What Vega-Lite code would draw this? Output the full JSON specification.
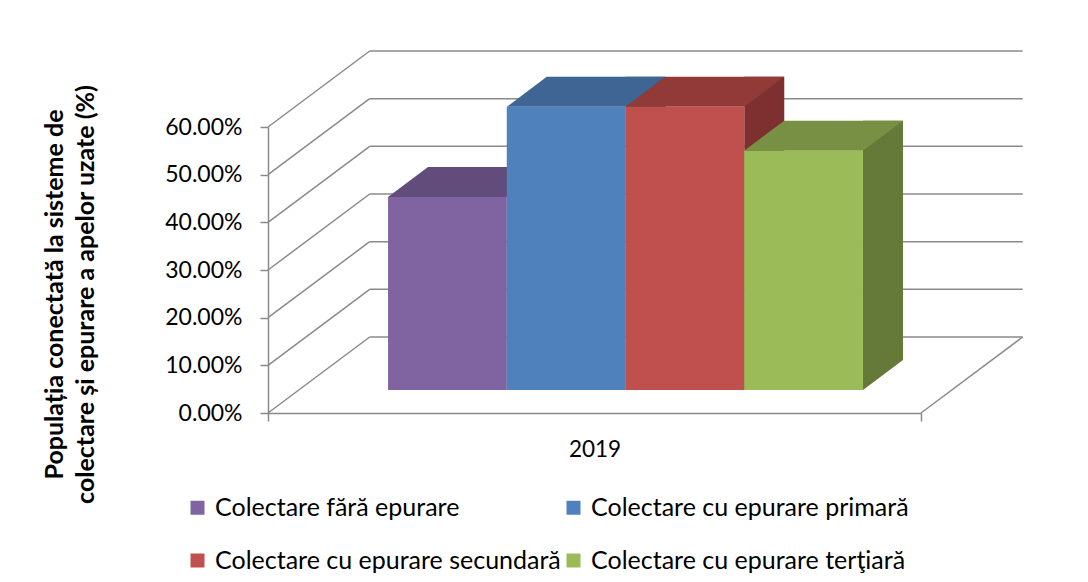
{
  "$schema": "https://vega.github.io/schema/vega-lite/v6.json",
  "width": 653,
  "height": 286,
  "autosize": {"type": "none"},
  "padding": {"left": 268, "top": 127, "right": 167, "bottom": 169},
  "background": "white",
  "config": {"view": {"stroke": null}, "font": "Lato", "axis": {"labelFontWeight": 400}},
  "datasets": {
    "bars": [
      {"year": "2019", "series": "Colectare fără epurare", "value": 0.405},
      {"year": "2019", "series": "Colectare cu epurare primară", "value": 0.594},
      {"year": "2019", "series": "Colectare cu epurare secundară", "value": 0.594},
      {"year": "2019", "series": "Colectare cu epurare terţiară", "value": 0.502}
    ],
    "levels": [
      {"level": 0}, {"level": 0.1}, {"level": 0.2}, {"level": 0.3},
      {"level": 0.4}, {"level": 0.5}, {"level": 0.6}
    ]
  },
  "layer": [
    {
      "data": {"name": "levels"},
      "layer": [
        {
          "mark": {"type": "rule", "color": "#8a8a8a", "strokeWidth": 1.5, "x2Offset": 101.7, "y2Offset": -76},
          "encoding": {
            "x": {"datum": 0, "type": "quantitative", "scale": {"domain": [0, 1]}, "axis": null},
            "x2": {"datum": 0},
            "y": {"field": "level", "type": "quantitative", "scale": {"domain": [0, 0.6], "nice": false}},
            "y2": {"field": "level"}
          }
        },
        {
          "mark": {"type": "rule", "color": "#8a8a8a", "strokeWidth": 1.5, "xOffset": 101.7, "x2Offset": 101.7, "yOffset": -76, "y2Offset": -76},
          "encoding": {
            "x": {"datum": 0, "type": "quantitative", "scale": {"domain": [0, 1]}, "axis": null},
            "x2": {"datum": 1},
            "y": {"field": "level", "type": "quantitative", "scale": {"domain": [0, 0.6], "nice": false}},
            "y2": {"field": "level"}
          }
        },
        {
          "transform": [{"filter": "datum.level == 0"}],
          "mark": {"type": "rule", "color": "#8a8a8a", "strokeWidth": 1.5, "x2Offset": 101.7, "y2Offset": -76},
          "encoding": {
            "x": {"datum": 1, "type": "quantitative", "scale": {"domain": [0, 1]}, "axis": null},
            "x2": {"datum": 1},
            "y": {"field": "level", "type": "quantitative", "scale": {"domain": [0, 0.6], "nice": false}},
            "y2": {"field": "level"}
          }
        }
      ]
    },
    {
      "data": {"name": "bars"},
      "mark": {"type": "bar", "opacity": 0},
      "encoding": {
        "x": {"field": "year", "type": "nominal", "scale": {"type": "band", "paddingInner": 0, "paddingOuter": 0},
          "axis": {"title": null, "labelAngle": 0, "domainColor": "#8a8a8a", "domainWidth": 1.5, "tickColor": "#8a8a8a", "tickWidth": 1.5, "tickSize": 8, "tickBand": "extent", "labelFont": "Lato", "labelFontSize": 22.5, "labelFontWeight": 400, "labelColor": "black", "labelPadding": 17}},
        "y": {"field": "value", "type": "quantitative", "scale": {"domain": [0, 0.6], "nice": false},
          "axis": {"values": [0, 0.1, 0.2, 0.3, 0.4, 0.5, 0.6], "format": ".2%", "grid": false, "domainColor": "#8a8a8a", "domainWidth": 1.5, "tickColor": "#8a8a8a", "tickWidth": 1.5, "tickSize": 8, "labelPadding": 18, "labelFont": "Lato", "labelFontSize": 23, "labelFontWeight": 400, "labelColor": "black",
            "title": ["Populația conectată la sisteme de", "colectare și epurare a apelor uzate (%)"], "titleFont": "Lato", "titleFontSize": 25, "titleFontWeight": "bold", "titleColor": "black", "titleX": -214, "titleY": 167, "titleAngle": -90, "titleAlign": "center", "titleBaseline": "middle", "titleLineHeight": 31.5}}
      }
    },
    {
      "data": {"name": "bars"},
      "layer": [
        {
          "mark": {"type": "bar", "width": 40, "xOffset": 110.4, "yOffset": -53, "y2Offset": -53},
          "encoding": {
            "x": {"field": "series", "type": "nominal", "sort": ["Colectare fără epurare", "Colectare cu epurare primară", "Colectare cu epurare secundară", "Colectare cu epurare terţiară"], "scale": {"type": "band", "paddingInner": 0, "paddingOuter": 0.75}, "axis": null},
            "y": {"field": "value", "type": "quantitative", "scale": {"domain": [0, 0.6], "nice": false}},
            "y2": {"datum": 0},
            "color": {"field": "series", "type": "nominal", "scale": {"domain": ["Colectare fără epurare", "Colectare cu epurare primară", "Colectare cu epurare secundară", "Colectare cu epurare terţiară"], "range": ["#564470", "#345577", "#7D302F", "#657A38"]}, "legend": null}
          }
        },
        {
          "mark": {"type": "point", "shape": "M0,0L40,-30L0,-30Z", "size": 4, "filled": true, "opacity": 1, "strokeWidth": 0, "xOffset": 90.4, "yOffset": -23},
          "encoding": {
            "x": {"field": "series", "type": "nominal", "sort": ["Colectare fără epurare", "Colectare cu epurare primară", "Colectare cu epurare secundară", "Colectare cu epurare terţiară"], "scale": {"type": "band", "paddingInner": 0, "paddingOuter": 0.75}, "axis": null},
            "y": {"datum": 0, "type": "quantitative", "scale": {"domain": [0, 0.6], "nice": false}},
            "color": {"field": "series", "type": "nominal", "scale": {"domain": ["Colectare fără epurare", "Colectare cu epurare primară", "Colectare cu epurare secundară", "Colectare cu epurare terţiară"], "range": ["#564470", "#345577", "#7D302F", "#657A38"]}, "legend": null}
          }
        },
        {
          "mark": {"type": "point", "shape": "M-59.4,0L59.4,0L99.4,-30L-19.4,-30Z", "size": 4, "filled": true, "opacity": 1, "strokeWidth": 0, "xOffset": 31, "yOffset": -23},
          "encoding": {
            "x": {"field": "series", "type": "nominal", "sort": ["Colectare fără epurare", "Colectare cu epurare primară", "Colectare cu epurare secundară", "Colectare cu epurare terţiară"], "scale": {"type": "band", "paddingInner": 0, "paddingOuter": 0.75}, "axis": null},
            "y": {"field": "value", "type": "quantitative", "scale": {"domain": [0, 0.6], "nice": false}},
            "color": {"field": "series", "type": "nominal", "scale": {"domain": ["Colectare fără epurare", "Colectare cu epurare primară", "Colectare cu epurare secundară", "Colectare cu epurare terţiară"], "range": ["#624C7B", "#3E6594", "#913A38", "#779044"]}, "legend": null}
          }
        },
        {
          "mark": {"type": "bar", "xOffset": 31, "yOffset": -23, "y2Offset": -23},
          "encoding": {
            "x": {"field": "series", "type": "nominal", "sort": ["Colectare fără epurare", "Colectare cu epurare primară", "Colectare cu epurare secundară", "Colectare cu epurare terţiară"], "scale": {"type": "band", "paddingInner": 0, "paddingOuter": 0.75}, "axis": null},
            "y": {"field": "value", "type": "quantitative", "scale": {"domain": [0, 0.6], "nice": false}},
            "y2": {"datum": 0},
            "color": {"field": "series", "type": "nominal", "scale": {"domain": ["Colectare fără epurare", "Colectare cu epurare primară", "Colectare cu epurare secundară", "Colectare cu epurare terţiară"], "range": ["#8064A2", "#4F81BD", "#C0504D", "#9BBB59"]},
              "legend": {"orient": "none", "legendX": -83, "legendY": 368, "direction": "horizontal", "columns": 2, "title": null, "padding": 0, "symbolType": "square", "symbolSize": 196, "symbolStrokeWidth": 0, "labelFont": "Lato", "labelFontSize": 25, "labelColor": "black", "labelOffset": 5, "labelLimit": 600, "columnPadding": -8, "rowPadding": 27, "gridAlign": "all"}}
          }
        }
      ],
      "resolve": {"scale": {"color": "independent"}}
    }
  ],
  "resolve": {"scale": {"x": "independent", "color": "independent"}}
}
